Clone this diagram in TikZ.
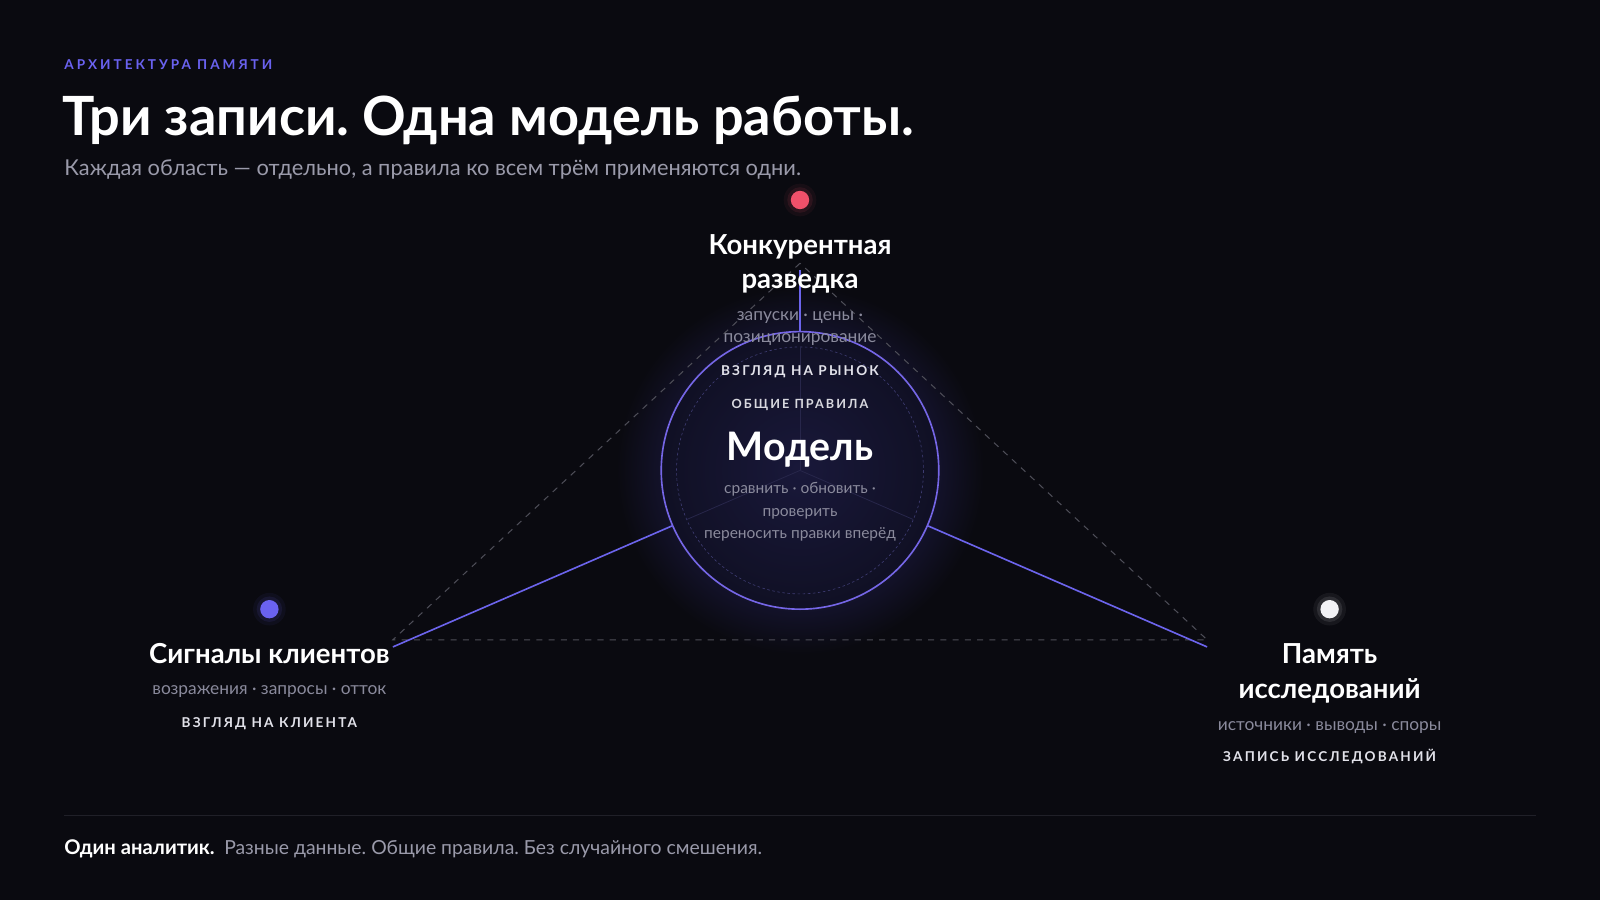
\documentclass[tikz,border=0pt]{standalone}
\usepackage{fontspec}
\setmainfont{Lato}
\newfontfamily\capsfont[LetterSpace=16]{Lato}
\newfontfamily\kickfont[LetterSpace=22]{Lato}
\usetikzlibrary{calc}
\frenchspacing
\definecolor{bg}{HTML}{0A0A10}
\definecolor{kicker}{HTML}{6A62F0}
\definecolor{subgray}{HTML}{9A9AAA}
\definecolor{smallgray}{HTML}{8A8A9C}
\definecolor{capsw}{HTML}{E2E2EA}
\definecolor{ringc}{HTML}{7566E6}
\definecolor{linec}{HTML}{6C64EC}
\definecolor{dashc}{HTML}{4E4E58}
\definecolor{innerdash}{HTML}{3E3C72}
\definecolor{spokec}{HTML}{27264A}
\definecolor{haloc}{HTML}{13122A}
\definecolor{discin}{HTML}{19183A}
\definecolor{discout}{HTML}{101024}
\definecolor{dotred}{HTML}{F0506A}
\definecolor{dotblue}{HTML}{6A62F0}
\definecolor{dotwhite}{HTML}{F2F2F6}
\definecolor{sepc}{HTML}{202028}
\pgfdeclareradialshading{haloshade}{\pgfpointorigin}{color(0bp)=(haloc); color(17bp)=(haloc); color(22.5bp)=(bg); color(50bp)=(bg)}
\pgfdeclareradialshading{discshade}{\pgfpointorigin}{color(0bp)=(discin); color(25bp)=(discout); color(50bp)=(discout)}
\tikzset{
  txt/.style={inner sep=0pt, anchor=base},
  heading/.style={txt, text=white, font=\fontsize{27}{32}\selectfont\bfseries},
  smalltxt/.style={txt, text=smallgray, font=\fontsize{17}{20}\selectfont},
  modeltxt/.style={txt, text=smallgray, font=\fontsize{15.2}{18}\selectfont},
  capslabel/.style={txt, text=capsw, font=\fontsize{13.3}{16}\selectfont\capsfont\bfseries},
  solidline/.style={draw=linec, line width=1.6pt},
  dashline/.style={draw=dashc, line width=1pt, dash pattern=on 6pt off 6pt},
  dotnode/.style={circle, inner sep=0pt, minimum size=18pt},
}
\begin{document}
\begin{tikzpicture}[x=1pt,y=-1pt]
\fill[bg] (0,0) rectangle (1568,882);
\useasboundingbox (0,0) rectangle (1568,882);

% header
\node[txt, anchor=base west, text=kicker, font=\fontsize{13.3}{16}\selectfont\kickfont\bfseries] (kick) at (63,68.5) {АРХИТЕКТУРА ПАМЯТИ};
\node[txt, anchor=base west, text=white, font=\fontsize{53}{60}\selectfont\bfseries] (title) at (61,133) {Три записи. Одна модель работы.};
\node[txt, anchor=base west, text=subgray, font=\fontsize{21.4}{25}\selectfont] (subtitle) at (63,172) {Каждая область — отдельно, а правила ко всем трём применяются одни.};

% vertices
\coordinate (vT) at (784,265);
\coordinate (vL) at (385,634);
\coordinate (vR) at (1183,634);
\coordinate (dT) at (784,258);
\coordinate (dL) at (385,627);
\coordinate (dR) at (1183,627);

% halo
\shade[shading=haloshade] (784,461) circle (200);

% dashed triangle
\draw[dashline] (dT) -- (dL) -- (dR) -- cycle;

% model circle
\node[circle, inner sep=0pt, minimum size=272pt, draw=ringc, line width=1.6pt, shade, shading=discshade] (model) at (784,461) {};
\draw[innerdash, line width=0.6pt, dash pattern=on 2.5pt off 2.5pt] (model.center) circle (121);
\draw[spokec, line width=0.8pt] (model.center) -- ($(model.center)!121pt!(vT)$);
\draw[spokec, line width=0.8pt] (model.center) -- ($(model.center)!121pt!(vL)$);
\draw[spokec, line width=0.8pt] (model.center) -- ($(model.center)!121pt!(vR)$);

% connectors
\draw[solidline] (model) -- (vT);
\draw[solidline] (model) -- (vL);
\draw[solidline] (model) -- (vR);

% dots with glow
\foreach \c/\p in {dotred/{(784,196)}, dotblue/{(264,597)}, dotwhite/{(1303,597)}} {
  \fill[\c, opacity=0.06] \p circle (16);
  \fill[\c, opacity=0.10] \p circle (12.5);
}
\node[dotnode, fill=dotred] (dotT) at (784,196) {};
\node[dotnode, fill=dotblue] (dotL) at (264,597) {};
\node[dotnode, fill=dotwhite] (dotR) at (1303,597) {};

% top group
\node[heading] (t1) at (784,249) {Конкурентная};
\node[heading] (t2) at (784,283) {разведка};
\node[smalltxt] (t3) at (784,314) {запуски · цены ·};
\node[smalltxt] (t4) at (784,336) {позиционирование};
\node[capslabel] (t5) at (784,367.5) {ВЗГЛЯД НА РЫНОК};

% model text
\node[capslabel, font=\fontsize{12.4}{15}\selectfont\capsfont\bfseries, text=capsw!90!gray] (m1) at (784,400.5) {ОБЩИЕ ПРАВИЛА};
\node[txt, text=white, font=\fontsize{38.5}{44}\selectfont\bfseries] (m2) at (784,451) {Модель};
\node[modeltxt] (m3) at (784,484) {сравнить · обновить ·};
\node[modeltxt] (m4) at (784,506) {проверить};
\node[modeltxt] (m5) at (784,528) {переносить правки вперёд};

% left group
\node[heading] (l1) at (264,650) {Сигналы клиентов};
\node[smalltxt] (l2) at (264,681) {возражения · запросы · отток};
\node[capslabel] (l3) at (264,712.5) {ВЗГЛЯД НА КЛИЕНТА};

% right group
\node[heading] (r1) at (1303,650) {Память};
\node[heading] (r2) at (1303,685) {исследований};
\node[smalltxt] (r3) at (1303,716) {источники · выводы · споры};
\node[capslabel] (r4) at (1303,746.5) {ЗАПИСЬ ИССЛЕДОВАНИЙ};

% footer
\coordinate (sepL) at (63,799);
\coordinate (sepR) at (1505,799);
\draw[sepc, line width=1pt] (sepL) -- (sepR);
\node[txt, anchor=base west, text=white, font=\fontsize{19.8}{22}\selectfont\bfseries] (f1) at (63,837) {Один аналитик.};
\node[txt, anchor=base west, text=subgray, font=\fontsize{19}{22}\selectfont] (f2) at ($(f1.base east)+(9,0)$) {Разные данные. Общие правила. Без случайного смешения.};
\end{tikzpicture}
\end{document}
